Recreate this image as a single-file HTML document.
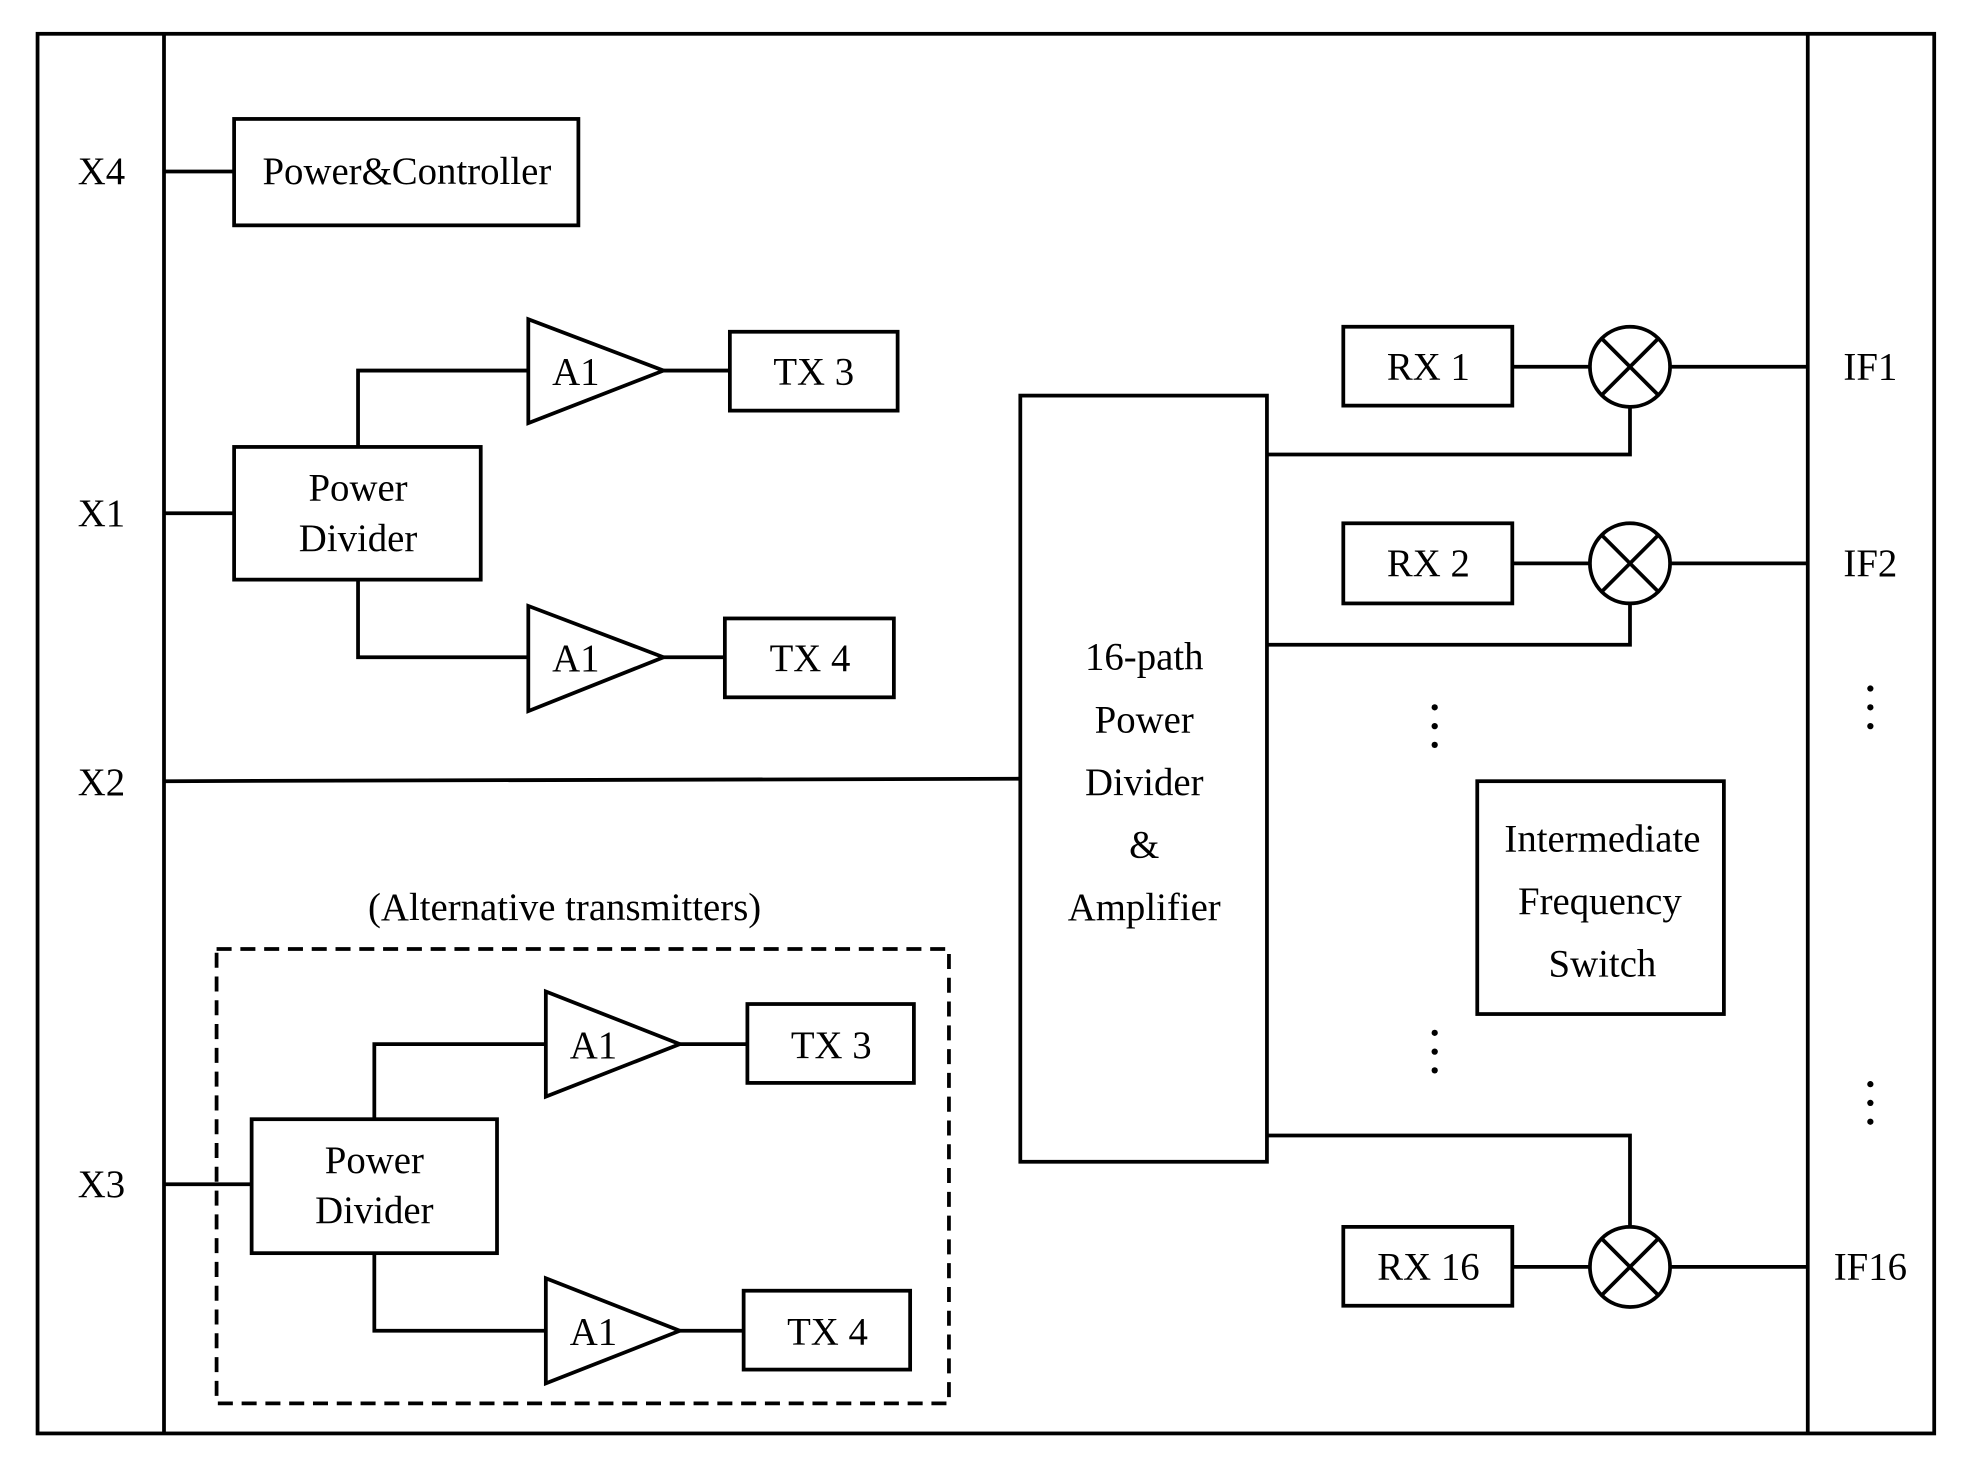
<!DOCTYPE html>
<html><head><meta charset="utf-8"><style>
html,body{margin:0;padding:0;background:#fff;}
svg{display:block;}
text{font-family:"Liberation Serif",serif;font-size:31px;fill:#000;}
</style></head><body>
<svg width="1963" height="1476" viewBox="0 0 1568 1179" preserveAspectRatio="none" xmlns="http://www.w3.org/2000/svg">
<g fill="none" stroke="#000" stroke-width="3">
<rect x="30" y="27" width="1515" height="1118"/>
<line x1="131" y1="27" x2="131" y2="1145"/>
<line x1="1444" y1="27" x2="1444" y2="1145"/>
<line x1="131" y1="137" x2="187" y2="137"/>
<rect x="187" y="95" width="275" height="85"/>
<line x1="131" y1="410" x2="187" y2="410"/>
<rect x="187" y="357" width="197" height="106"/>
<polyline points="286,357 286,296 422,296"/>
<polygon points="422,255 422,338 530,296"/>
<line x1="530" y1="296" x2="583" y2="296"/>
<rect x="583" y="265" width="134" height="63"/>
<polyline points="286,463 286,525 422,525"/>
<polygon points="422,484 422,568 530,525"/>
<line x1="530" y1="525" x2="579" y2="525"/>
<rect x="579" y="494" width="135" height="63"/>
<line x1="131" y1="624" x2="815" y2="622"/>
<rect x="815" y="316" width="197" height="612"/>
<rect x="1073" y="261" width="135" height="63"/>
<line x1="1208" y1="293" x2="1270" y2="293"/>
<circle cx="1302" cy="293" r="32"/>
<line x1="1279" y1="270" x2="1325" y2="316"/><line x1="1325" y1="270" x2="1279" y2="316"/>
<line x1="1334" y1="293" x2="1444" y2="293"/>
<polyline points="1302,325 1302,363 1012,363"/>
<rect x="1073" y="418" width="135" height="64"/>
<line x1="1208" y1="450" x2="1270" y2="450"/>
<circle cx="1302" cy="450" r="32"/>
<line x1="1279" y1="427" x2="1325" y2="473"/><line x1="1325" y1="427" x2="1279" y2="473"/>
<line x1="1334" y1="450" x2="1444" y2="450"/>
<polyline points="1302,482 1302,515 1012,515"/>
<rect x="1073" y="980" width="135" height="63"/>
<line x1="1208" y1="1012" x2="1270" y2="1012"/>
<circle cx="1302" cy="1012" r="32"/>
<line x1="1279" y1="989" x2="1325" y2="1035"/><line x1="1325" y1="989" x2="1279" y2="1035"/>
<line x1="1334" y1="1012" x2="1444" y2="1012"/>
<polyline points="1302,980 1302,907 1012,907"/>
<rect x="1180" y="624" width="197" height="186"/>
<rect x="173" y="758" width="585" height="363" stroke-dasharray="12,7"/>
<line x1="131" y1="946" x2="201" y2="946"/>
<rect x="201" y="894" width="196" height="107"/>
<polyline points="299,894 299,834 436,834"/>
<polygon points="436,792 436,876 543,834"/>
<line x1="543" y1="834" x2="597" y2="834"/>
<rect x="597" y="802" width="133" height="63"/>
<polyline points="299,1001 299,1063 436,1063"/>
<polygon points="436,1021 436,1105 543,1063"/>
<line x1="543" y1="1063" x2="594" y2="1063"/>
<rect x="594" y="1031" width="133" height="63"/>
</g>
<g fill="#000">
<circle cx="1146" cy="565" r="2.5"/><circle cx="1146" cy="580" r="2.5"/><circle cx="1146" cy="595" r="2.5"/>
<circle cx="1146" cy="825" r="2.5"/><circle cx="1146" cy="840" r="2.5"/><circle cx="1146" cy="855" r="2.5"/>
<circle cx="1494" cy="550" r="2.5"/><circle cx="1494" cy="565" r="2.5"/><circle cx="1494" cy="580" r="2.5"/>
<circle cx="1494" cy="866" r="2.5"/><circle cx="1494" cy="881" r="2.5"/><circle cx="1494" cy="896" r="2.5"/>
</g>
<g text-anchor="middle" dominant-baseline="central">
<text x="81" y="137">X4</text>
<text x="81" y="410">X1</text>
<text x="81" y="625">X2</text>
<text x="81" y="946">X3</text>
<text x="325" y="137">Power&amp;Controller</text>
<text x="286" y="390">Power</text><text x="286" y="430">Divider</text>
<text x="460" y="297">A1</text><text x="650" y="297">TX 3</text>
<text x="460" y="526">A1</text><text x="647" y="526">TX 4</text>
<text x="914" y="525">16-path</text><text x="914" y="575">Power</text><text x="914" y="625">Divider</text><text x="914" y="675">&amp;</text><text x="914" y="725">Amplifier</text>
<text x="1141" y="293">RX 1</text><text x="1141" y="450">RX 2</text><text x="1141" y="1012">RX 16</text>
<text x="1494" y="293">IF1</text><text x="1494" y="450">IF2</text><text x="1494" y="1012">IF16</text>
<text x="1280" y="670">Intermediate</text><text x="1278" y="720">Frequency</text><text x="1280" y="770">Switch</text>
<text x="451" y="725">(Alternative transmitters)</text>
<text x="299" y="927">Power</text><text x="299" y="967">Divider</text>
<text x="474" y="835">A1</text><text x="664" y="835">TX 3</text>
<text x="474" y="1064">A1</text><text x="661" y="1064">TX 4</text>
</g>
</svg>
</body></html>
